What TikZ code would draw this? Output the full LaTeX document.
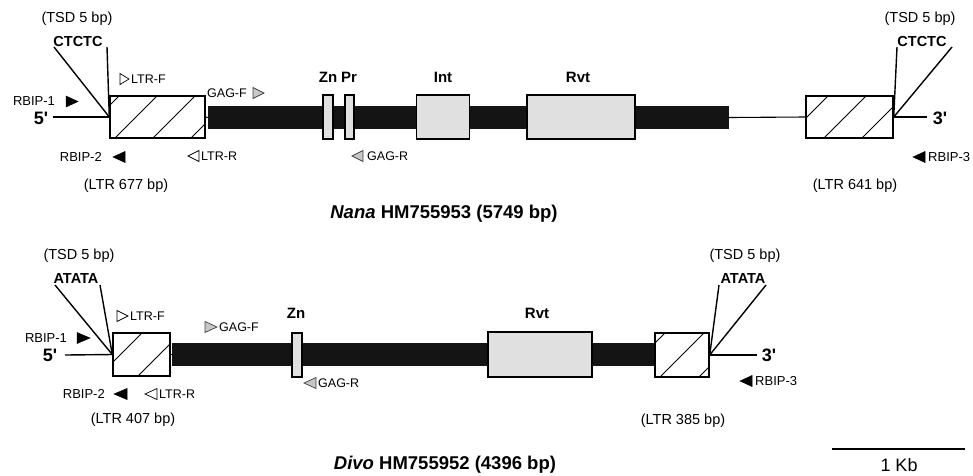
\documentclass[tikz,border=0pt]{standalone}
\usepackage{fontspec}
\setmainfont{Liberation Sans}
\begin{document}
\begin{tikzpicture}[x=1pt,y=-1pt,
  lbl/.style={inner sep=0pt, font=\fontsize{14.5}{16}\selectfont},
  prm/.style={inner sep=0pt, anchor=west, font=\fontsize{12.5}{14}\selectfont},
  rb/.style={inner sep=0pt, font=\fontsize{13}{15}\selectfont},
  seq/.style={inner sep=0pt, font=\bfseries\fontsize{14.5}{16}\selectfont},
  endlbl/.style={inner sep=0pt, font=\bfseries\fontsize{18}{20}\selectfont},
  dom/.style={inner sep=0pt, font=\bfseries\fontsize{15}{17}\selectfont},
  ttl/.style={inner sep=0pt, font=\bfseries\fontsize{18.5}{20}\selectfont},
  ltrbox/.style={draw, line width=1.4pt, inner sep=0pt},
  dombox/.style={draw, fill=black!12, line width=1.3pt, inner sep=0pt},
  bar/.style={fill=black!92, draw=none, inner sep=0pt},
  ln/.style={line width=1.4pt},
  thinln/.style={line width=1.1pt},
  hatchln/.style={line width=0.8pt},
  rbt/.style={fill=black, draw=black, line width=0.5pt},
  ltrt/.style={fill=white, draw=black, line width=0.7pt},
  gagt/.style={fill=black!22, draw=black!75, line width=0.7pt}
]
\useasboundingbox (0,0) rectangle (973,475);

% ---------- helpers ----------
\newcommand\hatchbox[6]{% x1 y1 x2 y2 firstc spacing
  \begin{scope}
    \clip (#1+0.7,#2+0.7) rectangle (#3-0.7,#4-0.7);
    \foreach \i in {0,...,6}{
      \pgfmathsetmacro\cc{#5+#6*\i}
      \draw[hatchln] (\cc-#4,#4) -- (\cc-#2,#2);
    }
  \end{scope}}
\newcommand\trir[4]{\draw[#4] (#1,#3-5.5) -- (#2,#3) -- (#1,#3+5.5) -- cycle;}
\newcommand\tril[4]{\draw[#4] (#2,#3-5.5) -- (#1,#3) -- (#2,#3+5.5) -- cycle;}

% ================= NANA =================
\node[bar, minimum width=521pt, minimum height=23pt] (nbar) at (468.5,117.5) {};
\node[ltrbox, minimum width=95pt, minimum height=42pt] (nL1) at (157.5,117) {};
\hatchbox{110}{96}{205}{138}{215}{38}
\node[ltrbox, minimum width=87pt, minimum height=42pt] (nL2) at (849.5,117) {};
\hatchbox{806}{96}{893}{138}{924}{38}
\draw[thinln] (nL1.east) -- (nbar.west);
\draw[thinln] (nbar.east) -- (nL2.west);
\node[dombox, minimum width=10pt, minimum height=44pt] (nZn) at (328,117) {};
\node[dombox, minimum width=9pt, minimum height=44pt] (nPr) at (349.5,117) {};
\node[dombox, minimum width=53pt, minimum height=44pt] (nInt) at (443,117) {};
\node[dombox, minimum width=108pt, minimum height=44pt] (nRvt) at (581,117) {};

\node[dom] (nZnl) at (328,77) {Zn};
\node[dom] (nPrl) at (349,77) {Pr};
\node[dom] (nIntl) at (443,77) {Int};
\node[dom] (nRvtl) at (578,77) {Rvt};

% left end
\node[lbl] (ntsd1) at (77,19) {(TSD 5 bp)};
\node[seq] (nseq1) at (78,42) {CTCTC};
\coordinate (nt1a) at (54,47);
\coordinate (nt1b) at (107,47);
\draw[ln] (nt1a) -- (nL1.west);
\draw[ln] (nt1b) -- (nL1.west);
\node[endlbl] (n5) at (41,118) {5\textquotesingle};
\coordinate (n5e) at (53,117);
\draw[ln] (n5e) -- (nL1.west);
\node[rb] (nrb1) at (34,101) {RBIP-1};
\trir{66}{78}{101.5}{rbt}
\node[rb, anchor=east] (nrb2) at (102,157) {RBIP-2};
\tril{113}{125}{157}{rbt}
\node[lbl] (nltr1) at (126,186) {(LTR 677 bp)};
% primers
\trir{120}{129}{79}{ltrt}
\node[prm] (nltrf) at (131,79) {LTR-F};
\node[prm] (ngagf) at (207,93) {GAG-F};
\trir{253}{264}{93}{gagt}
\tril{188}{199}{156}{ltrt}
\node[prm] (nltrr) at (201,156) {LTR-R};
\tril{352}{363}{156}{gagt}
\node[prm] (ngagr) at (367,156) {GAG-R};

% right end
\node[lbl] (ntsd2) at (920,19) {(TSD 5 bp)};
\node[seq] (nseq2) at (922,42) {CTCTC};
\coordinate (nt2a) at (897,47);
\coordinate (nt2b) at (952,47);
\draw[ln] (nt2a) -- (nL2.east);
\draw[ln] (nt2b) -- (nL2.east);
\node[endlbl] (n3) at (940,118) {3\textquotesingle};
\coordinate (n3e) at (927,117);
\draw[ln] (nL2.east) -- (n3e);
\tril{913}{925}{157}{rbt}
\node[rb, anchor=west] (nrb3) at (928,157) {RBIP-3};
\node[lbl] (nltr2) at (855,186) {(LTR 641 bp)};

\node[ttl] (ntitle) at (444,214) {\textit{Nana} HM755953 (5749 bp)};

% ================= DIVO =================
\node[bar, minimum width=483pt, minimum height=23pt] (dbar) at (413.5,354.5) {};
\node[ltrbox, minimum width=57pt, minimum height=43pt] (dL1) at (141.5,354.5) {};
\hatchbox{113}{333}{170}{376}{475}{39}
\node[ltrbox, minimum width=54pt, minimum height=44pt] (dL2) at (682,355) {};
\hatchbox{655}{333}{709}{377}{998}{39}
\draw[thinln] (dL1.east) -- (dbar.west);
\node[dombox, minimum width=10pt, minimum height=44pt] (dZn) at (297,355) {};
\node[dombox, minimum width=104pt, minimum height=45pt] (dRvt) at (540,354.5) {};

\node[dom] (dZnl) at (296,313) {Zn};
\node[dom] (dRvtl) at (537,313) {Rvt};

% left end
\node[lbl] (dtsd1) at (79,256) {(TSD 5 bp)};
\node[seq] (dseq1) at (76,279) {ATATA};
\coordinate (dt1a) at (55,285);
\coordinate (dt1b) at (100,285);
\draw[ln] (dt1a) -- (dL1.west);
\draw[ln] (dt1b) -- (dL1.west);
\node[endlbl] (d5) at (50,355) {5\textquotesingle};
\coordinate (d5e) at (65,355);
\draw[ln] (d5e) -- (dL1.west);
\node[rb] (drb1) at (46,338) {RBIP-1};
\trir{77}{90}{338}{rbt}
\node[rb, anchor=east] (drb2) at (105,394) {RBIP-2};
\tril{114}{127}{394}{rbt}
\node[lbl] (dltr1) at (133,420) {(LTR 407 bp)};
% primers
\trir{117}{128}{316}{ltrt}
\node[prm] (dltrf) at (130,316) {LTR-F};
\trir{205}{217}{327}{gagt}
\node[prm] (dgagf) at (219,327) {GAG-F};
\tril{145}{157}{394}{ltrt}
\node[prm] (dltrr) at (159,394) {LTR-R};
\tril{304}{316}{383}{gagt}
\node[prm] (dgagr) at (318,383) {GAG-R};

% right end
\node[lbl] (dtsd2) at (745,256) {(TSD 5 bp)};
\node[seq] (dseq2) at (743,279) {ATATA};
\coordinate (dt2a) at (719,285);
\coordinate (dt2b) at (766,285);
\draw[ln] (dt2a) -- (dL2.east);
\draw[ln] (dt2b) -- (dL2.east);
\node[endlbl] (d3) at (769,355) {3\textquotesingle};
\coordinate (d3e) at (757,355);
\draw[ln] (dL2.east) -- (d3e);
\tril{740}{752}{381}{rbt}
\node[rb, anchor=west] (drb3) at (755,381) {RBIP-3};
\node[lbl] (dltr2) at (683,421) {(LTR 385 bp)};

\node[ttl] (dtitle) at (445,465) {\textit{Divo} HM755952 (4396 bp)};

% scale bar
\coordinate (sba) at (832,449);
\coordinate (sbb) at (965,449);
\draw[line width=1.2pt] (sba) -- (sbb);
\node[inner sep=0pt, font=\fontsize{18}{20}\selectfont] (kb) at (899,465) {1 Kb};
\end{tikzpicture}
\end{document}
